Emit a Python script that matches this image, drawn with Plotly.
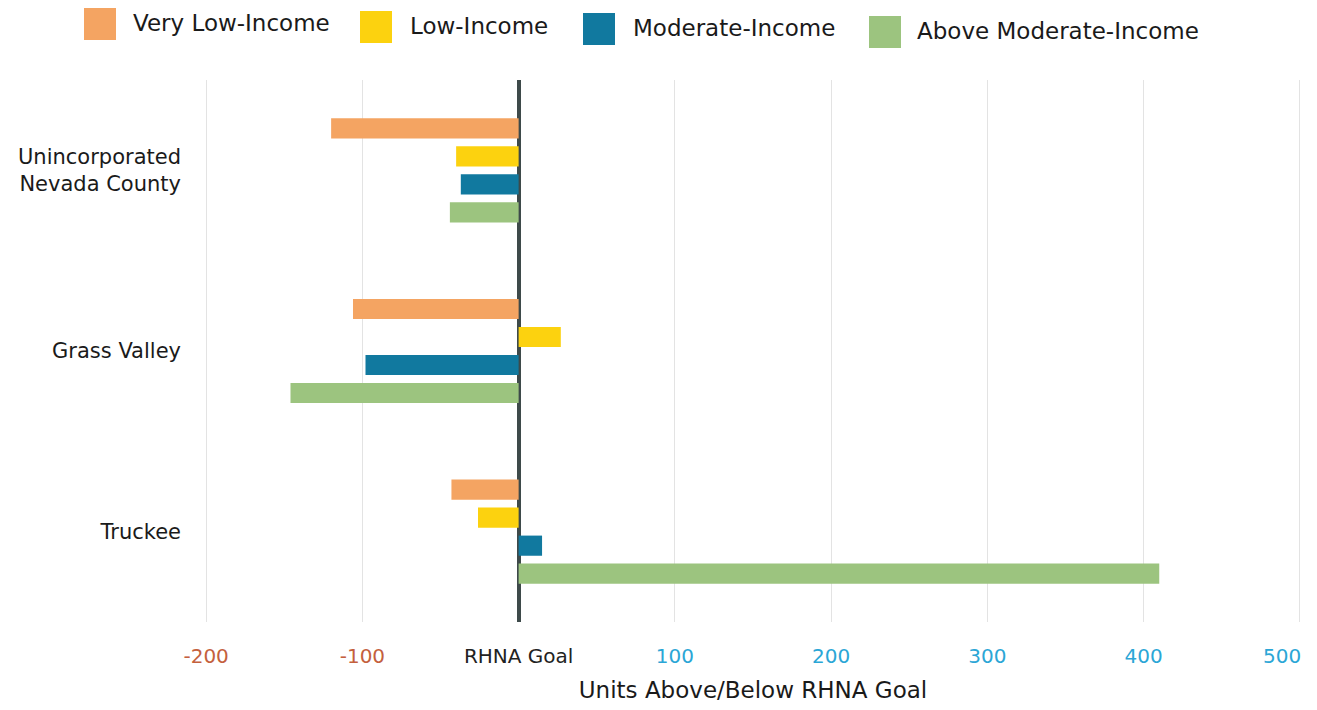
import plotly.graph_objects as go

categories = ["Unincorporated<br>Nevada County", "Grass Valley", "Truckee"]
series_names = ["Very Low-Income", "Low-Income", "Moderate-Income", "Above Moderate-Income"]
very_low = [-120, -106, -43]
low = [-40, 27, -26]
moderate = [-37, -98, 15]
above_moderate = [-44, -146, 410]
colors = ["#F4A462", "#FCD20F", "#11799F", "#9CC47F"]

tick_vals = [-200, -100, 0, 100, 200, 300, 400, 500]
tick_labels = ["-200", "-100", "RHNA Goal", "100", "200", "300", "400", "500"]
tick_colors = ["#C4603D", "#C4603D", "#222222", "#2BA6D6", "#2BA6D6", "#2BA6D6", "#2BA6D6", "#2BA6D6"]

FONT = "DejaVu Sans"
W, H = 1317, 710
ML, MR, MT, MB = 203, 14, 80, 88
PW, PH = W - ML - MR, H - MT - MB
X_RANGE = [-202, 502]

def px_x(p):
    return (p - ML) / PW

def px_y(p):
    return 1 + (MT - p) / PH

# the last tick label sits flush with the right edge, so it is drawn as a right-anchored annotation
tick_text = [f'<span style="color:{c}">{t}</span>' for t, c in zip(tick_labels[:-1], tick_colors[:-1])] + [""]

fig = go.Figure()
for name, vals, col in zip(series_names, [very_low, low, moderate, above_moderate], colors):
    fig.add_trace(go.Bar(y=categories, x=vals, name=name, orientation="h",
                         marker=dict(color=col, line=dict(width=0)), showlegend=False))

# custom legend with large square swatches
legend_swatch_px = [84, 360, 583, 869]
legend_text_px = [131, 408, 631, 915]
legend_center_px = [24, 27, 29, 32]
shapes = []
annotations = []
for i, name in enumerate(series_names):
    cy = legend_center_px[i]
    shapes.append(dict(type="rect", xref="paper", yref="paper",
                       x0=px_x(legend_swatch_px[i]), x1=px_x(legend_swatch_px[i] + 32),
                       y0=px_y(cy + 16), y1=px_y(cy - 16), fillcolor=colors[i], line=dict(width=0)))
    annotations.append(dict(text=name, xref="paper", yref="paper", x=px_x(legend_text_px[i]),
                            y=px_y(cy - 1), xanchor="left", yanchor="middle", showarrow=False,
                            font=dict(family=FONT, size=23, color="#1a1a1a")))

annotations.append(dict(text=tick_labels[-1], xref="x", yref="paper", x=X_RANGE[1], y=px_y(656),
                        xanchor="right", yanchor="middle", showarrow=False,
                        font=dict(family=FONT, size=20, color=tick_colors[-1])))

fig.update_layout(
    width=W, height=H,
    margin=dict(l=ML, r=MR, t=MT, b=MB, autoexpand=False),
    paper_bgcolor="white", plot_bgcolor="white",
    barmode="group", bargap=0.38, bargroupgap=0.28,
    font=dict(family=FONT, size=20, color="#1a1a1a"),
    shapes=shapes, annotations=annotations,
    xaxis=dict(range=X_RANGE, tickvals=tick_vals, ticktext=tick_text, automargin=False,
               showgrid=True, gridcolor="#E3E3E3", gridwidth=1,
               zeroline=True, zerolinecolor="#3E4A4A", zerolinewidth=4,
               showline=False, ticks="", ticklabelstandoff=20,
               tickfont=dict(family=FONT, size=20),
               title=dict(text="Units Above/Below RHNA Goal", standoff=14,
                          font=dict(family=FONT, size=23, color="#1a1a1a"))),
    yaxis=dict(autorange="reversed", showgrid=False, showline=False, ticks="", automargin=False,
               ticklabelstandoff=21, tickfont=dict(family=FONT, size=21, color="#1a1a1a")),
)

fig.write_html("out.html")
